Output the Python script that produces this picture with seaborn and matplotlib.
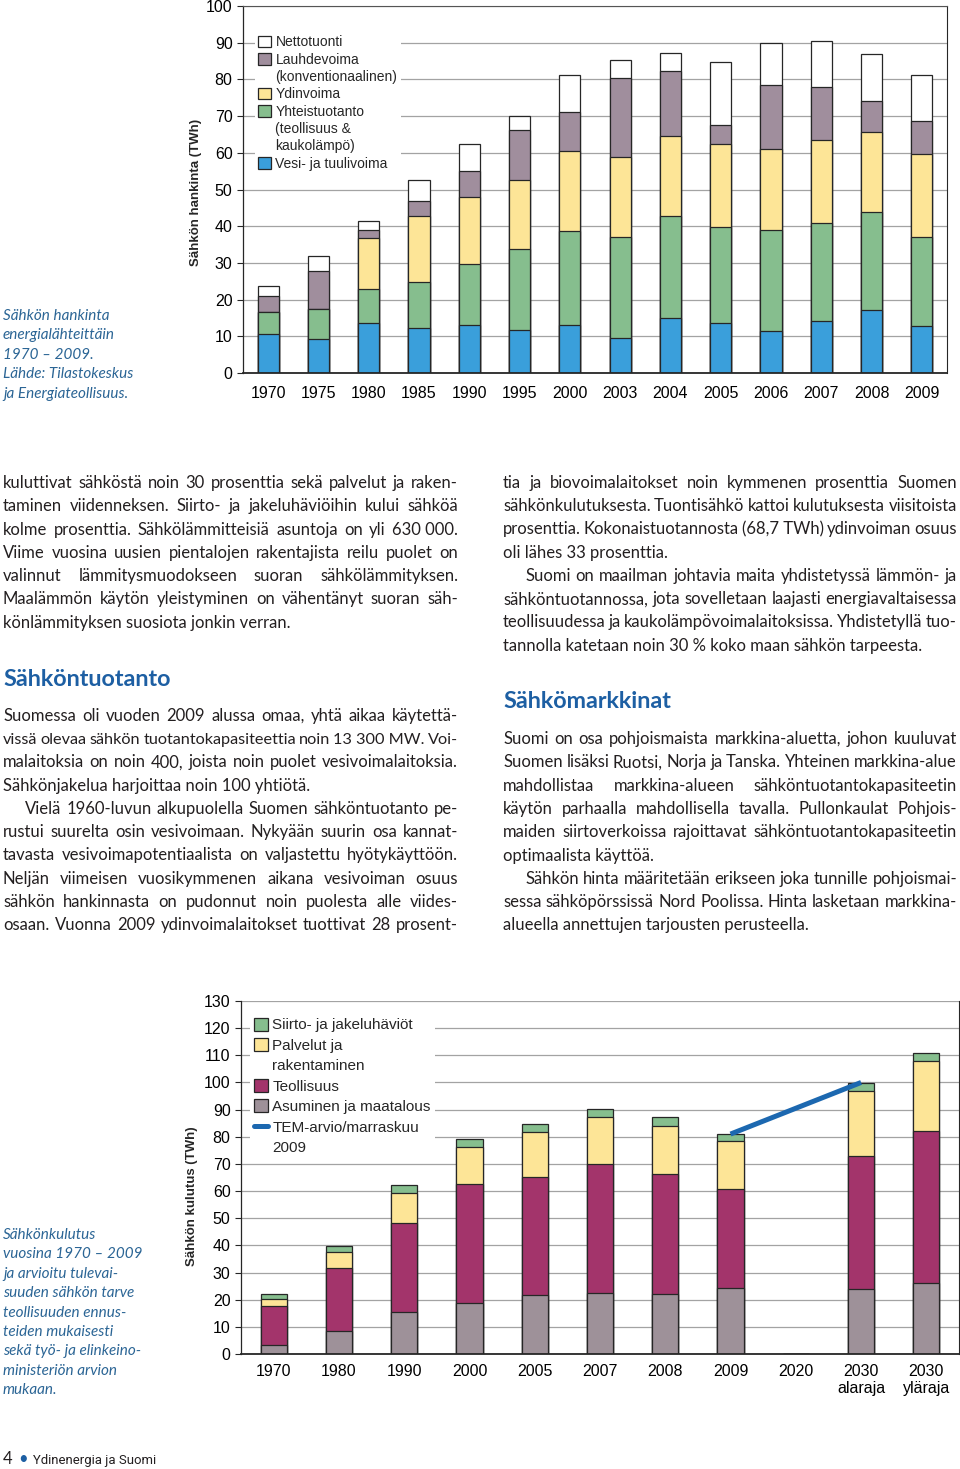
import numpy as np
import pandas as pd
import matplotlib
matplotlib.use("Agg")
import matplotlib.pyplot as plt
from matplotlib.patches import Patch
from matplotlib.lines import Line2D
import seaborn as sns

# Sähkön hankinta energialähteittäin (TWh)
supply_years = ["1970", "1975", "1980", "1985", "1990", "1995", "2000",
                "2003", "2004", "2005", "2006", "2007", "2008", "2009"]
vesi = [10.5, 9.4, 13.5, 12.3, 13.0, 11.6, 13.0, 9.5, 15.0, 13.6, 11.5, 14.2, 17.1, 12.8]
yhteis = [6.0, 8.0, 9.5, 12.5, 16.6, 22.3, 25.8, 27.5, 27.9, 26.3, 27.5, 26.7, 26.9, 24.3]
ydin = [0.0, 0.0, 13.8, 18.0, 18.4, 18.6, 21.7, 21.8, 21.7, 22.5, 22.1, 22.5, 21.8, 22.6]
lauhde = [4.5, 10.4, 2.3, 4.1, 7.0, 13.8, 10.7, 21.6, 17.6, 5.2, 17.4, 14.4, 8.4, 9.1]
netto = [2.6, 4.1, 2.3, 5.8, 7.3, 3.7, 9.9, 4.8, 4.9, 17.1, 11.5, 12.6, 12.8, 12.3]

# Sähkön kulutus (TWh)
use_cats = ["1970", "1980", "1990", "2000", "2005", "2007", "2008", "2009",
            "2020", "2030\nalaraja", "2030\nyläraja"]
asuminen = [3.3, 8.6, 15.6, 18.9, 21.6, 22.3, 22.1, 24.3, 0.0, 23.9, 26.0]
teollisuus = [14.2, 22.9, 32.5, 43.6, 43.6, 47.8, 44.3, 36.4, 0.0, 49.1, 56.0]
palvelut = [2.7, 5.9, 11.3, 13.9, 16.4, 17.1, 17.5, 17.8, 0.0, 23.8, 25.9]
siirto = [1.8, 2.5, 2.9, 2.6, 3.1, 3.1, 3.2, 2.5, 0.0, 3.1, 3.0]
tem_cats = ["2009", "2020", "2030\nalaraja"]
tem_values = [81.0, 90.5, 100.0]

W, H = 960, 1469
EDGE = "#262626"
GRID = "#a3a3a3"
BODY = "#231f20"
HEAD = "#1d5fa3"
CAPT = "#2b6595"

sns.set_style("white")
plt.rcParams["font.family"] = ["Liberation Sans", "DejaVu Sans"]

fig = plt.figure(figsize=(W / 100, H / 100), dpi=100)
renderer = fig.canvas.get_renderer()


def fx(x):
    return x / W


def fy(y):
    return 1 - y / H


def measure(s, **kw):
    t = fig.text(0, 0, s, **kw)
    w = t.get_window_extent(renderer).width
    t.remove()
    return w


def style_axes(ax, top):
    ax.set_axisbelow(True)
    ax.yaxis.grid(True, color=GRID, lw=0.9)
    ax.xaxis.grid(False)
    ax.set_xlabel("")
    ax.set_ylabel("")
    for side in ["left", "right", "bottom"]:
        ax.spines[side].set_color(EDGE)
    ax.spines["left"].set_linewidth(0.9)
    ax.spines["right"].set_linewidth(0.8)
    ax.spines["bottom"].set_linewidth(1.3)
    ax.spines["top"].set_visible(top)
    ax.spines["top"].set_color("#555555")
    ax.spines["top"].set_linewidth(0.8)
    ax.tick_params(axis="y", left=True, length=4.5, width=0.8, color=EDGE,
                   pad=3, labelsize=11.5, labelcolor="black")
    ax.tick_params(axis="x", length=0, labelsize=11.5, labelcolor="black")


def legend_rows(entries):
    # first line of each entry gets the handle, continuation lines get an empty one
    handles, labels = [], []
    blank = Patch(facecolor="none", edgecolor="none")
    for handle, text in entries:
        for k, part in enumerate(text.split("\n")):
            handles.append(handle if k == 0 else blank)
            labels.append(part)
    return handles, labels


# ---------- top chart ----------
ax1 = fig.add_axes([fx(243), fy(373), fx(947) - fx(243), fy(6) - fy(373)])
supply_cols = ["Vesi- ja tuulivoima", "Yhteistuotanto", "Ydinvoima", "Lauhdevoima", "Nettotuonti"]
supply_colors = {"Vesi- ja tuulivoima": "#3a9fdb", "Yhteistuotanto": "#86be8e",
                 "Ydinvoima": "#fde597", "Lauhdevoima": "#a08e9d", "Nettotuonti": "#ffffff"}
supply = pd.DataFrame({"vuosi": supply_years, supply_cols[0]: vesi, supply_cols[1]: yhteis,
                       supply_cols[2]: ydin, supply_cols[3]: lauhde, supply_cols[4]: netto})
supply_cum = supply[supply_cols].cumsum(axis=1)
for col in reversed(supply_cols):
    sns.barplot(x=supply["vuosi"], y=supply_cum[col], color=supply_colors[col], saturation=1,
                width=0.42, edgecolor=EDGE, linewidth=0.9, errorbar=None, ax=ax1)
ax1.set_ylim(0, 100)
ax1.set_xlim(-0.5, len(supply_years) - 0.5)
ax1.set_yticks(range(0, 101, 10))
style_axes(ax1, True)
ax1.tick_params(axis="x", pad=9)

leg_labels = ["Nettotuonti", "Lauhdevoima\n(konventionaalinen)", "Ydinvoima",
              "Yhteistuotanto\n(teollisuus &\nkaukolämpö)", "Vesi- ja tuulivoima"]
leg_patches = [Patch(facecolor=supply_colors[c], edgecolor=EDGE, lw=0.9) for c in reversed(supply_cols)]
h1, l1 = legend_rows(zip(leg_patches, leg_labels))
ax1.legend(h1, l1, loc="upper left", bbox_to_anchor=(fx(255), fy(32)),
           bbox_transform=fig.transFigure, frameon=True, facecolor="white", edgecolor="none",
           framealpha=1, fancybox=False, borderpad=0.25, borderaxespad=0, fontsize=10,
           handlelength=0.9, handleheight=0.9, handletextpad=0.32, labelspacing=0.24)

fig.text(fx(196), fy(192), "Sähkön hankinta (TWh)", rotation=90, ha="center", va="center",
         fontsize=9.5, fontweight="bold")

# ---------- bottom chart ----------
ax2 = fig.add_axes([fx(241), fy(1354), fx(959) - fx(241), fy(1001) - fy(1354)])
use_cols = ["Asuminen ja maatalous", "Teollisuus", "Palvelut ja rakentaminen", "Siirto- ja jakeluhäviöt"]
use_colors = {"Asuminen ja maatalous": "#9e9199", "Teollisuus": "#a3346b",
              "Palvelut ja rakentaminen": "#fde597", "Siirto- ja jakeluhäviöt": "#86be8e"}
usage = pd.DataFrame({"vuosi": use_cats, use_cols[0]: asuminen, use_cols[1]: teollisuus,
                      use_cols[2]: palvelut, use_cols[3]: siirto})
usage_cum = usage[use_cols].cumsum(axis=1)
for col in reversed(use_cols):
    sns.barplot(x=usage["vuosi"], y=usage_cum[col], color=use_colors[col], saturation=1,
                width=0.40, edgecolor=EDGE, linewidth=0.9, errorbar=None, ax=ax2)
tem_x = [use_cats.index(c) for c in tem_cats]
ax2.plot(tem_x, tem_values, color="#1c68b0", lw=3.6, solid_capstyle="butt", zorder=6)
ax2.set_ylim(0, 130)
ax2.set_xlim(-0.5, len(use_cats) - 0.5)
ax2.set_yticks(range(0, 131, 10))
style_axes(ax2, False)
ax2.tick_params(axis="x", pad=7)

leg2_labels = ["Siirto- ja jakeluhäviöt", "Palvelut ja\nrakentaminen", "Teollisuus",
               "Asuminen ja maatalous", "TEM-arvio/marraskuu\n2009"]
leg2_patches = [Patch(facecolor=use_colors[c], edgecolor=EDGE, lw=0.9) for c in reversed(use_cols)]
leg2_patches.append(Line2D([0], [0], color="#1c68b0", lw=3.6))
h2, l2 = legend_rows(zip(leg2_patches, leg2_labels))
ax2.legend(h2, l2, loc="upper left", bbox_to_anchor=(fx(250), fy(1014)),
           bbox_transform=fig.transFigure, frameon=True, facecolor="white", edgecolor="none",
           framealpha=1, fancybox=False, borderpad=0.25, borderaxespad=0, fontsize=11,
           handlelength=0.9, handleheight=0.9, handletextpad=0.32, labelspacing=0.38)

fig.text(fx(192), fy(1196), "Sähkön kulutus (TWh)", rotation=90, ha="center", va="center",
         fontsize=9.5, fontweight="bold")

# ---------- captions ----------
cap_font = dict(family=["Lato", "DejaVu Sans"], style="italic", color=CAPT)
cap_size = 10 * 125 / measure("ja Energiateollisuus.", fontsize=10, **cap_font)
cap1 = ["Sähkön hankinta", "energialähteittäin", "1970 – 2009.", "Lähde: Tilastokeskus",
        "ja Energiateollisuus."]
for i, s in enumerate(cap1):
    fig.text(fx(3), fy(320 + 19.5 * i), s, va="baseline", ha="left", fontsize=cap_size, **cap_font)
cap2 = ["Sähkönkulutus", "vuosina 1970 – 2009", "ja arvioitu tulevai-", "suuden sähkön tarve",
        "teollisuuden ennus-", "teiden mukaisesti", "sekä työ- ja elinkeino-", "ministeriön arvion",
        "mukaan."]
for i, s in enumerate(cap2):
    fig.text(fx(3), fy(1239 + 19.4 * i), s, va="baseline", ha="left", fontsize=cap_size, **cap_font)

# ---------- body text ----------
body_font = dict(family=["Lato", "DejaVu Sans"], color=BODY)
body_size = 10 * 288 / measure("könlämmityksen suosiota jonkin verran.", fontsize=10, **body_font)
head_font = dict(family=["Lato", "DejaVu Sans"], color=HEAD, fontweight="bold")
head_size = 10 * 168 / measure("Sähköntuotanto", fontsize=10, **head_font)
space_w = measure("a a", fontsize=body_size, **body_font) - measure("aa", fontsize=body_size, **body_font)


def body_line(x0, x1, y, s, justify):
    if not justify:
        fig.text(fx(x0), fy(y), s, va="baseline", ha="left", fontsize=body_size, **body_font)
        return
    words = s.split(" ")
    size = body_size
    widths = [measure(w, fontsize=size, **body_font) for w in words]
    min_w = sum(widths) + 0.7 * space_w * (len(words) - 1)
    if min_w > x1 - x0:
        # tight line: shrink the type a little, as the typesetter did
        size = body_size * (x1 - x0) / min_w
        widths = [measure(w, fontsize=size, **body_font) for w in words]
    gap = (x1 - x0 - sum(widths)) / (len(words) - 1)
    x = x0
    for w, wd in zip(words, widths):
        fig.text(fx(x), fy(y), w, va="baseline", ha="left", fontsize=size, **body_font)
        x += wd + gap


def block(x0, x1, y0, step, lines):
    for i, (s, just, indent) in enumerate(lines):
        body_line(x0 + indent, x1, y0 + step * i, s, just)


left_a = [
    ("kuluttivat sähköstä noin 30 prosenttia sekä palvelut ja raken-", True, 0),
    ("taminen viidenneksen. Siirto- ja jakeluhäviöihin kului sähköä", True, 0),
    ("kolme prosenttia. Sähkölämmitteisiä asuntoja on yli 630\u00a0000.", True, 0),
    ("Viime vuosina uusien pientalojen rakentajista reilu puolet on", True, 0),
    ("valinnut lämmitysmuodokseen suoran sähkölämmityksen.", True, 0),
    ("Maalämmön käytön yleistyminen on vähentänyt suoran säh-", True, 0),
    ("könlämmityksen suosiota jonkin verran.", False, 0),
]
left_b = [
    ("Suomessa oli vuoden 2009 alussa omaa, yhtä aikaa käytettä-", True, 0),
    ("vissä olevaa sähkön tuotantokapasiteettia noin 13\u00a0300\u00a0MW. Voi-", True, 0),
    ("malaitoksia on noin 400, joista noin puolet vesivoimalaitoksia.", True, 0),
    ("Sähkönjakelua harjoittaa noin 100 yhtiötä.", False, 0),
    ("Vielä 1960-luvun alkupuolella Suomen sähköntuotanto pe-", True, 22),
    ("rustui suurelta osin vesivoimaan. Nykyään suurin osa kannat-", True, 0),
    ("tavasta vesivoimapotentiaalista on valjastettu hyötykäyttöön.", True, 0),
    ("Neljän viimeisen vuosikymmenen aikana vesivoiman osuus", True, 0),
    ("sähkön hankinnasta on pudonnut noin puolesta alle viides-", True, 0),
    ("osaan. Vuonna 2009 ydinvoimalaitokset tuottivat 28 prosent-", True, 0),
]
right_a = [
    ("tia ja biovoimalaitokset noin kymmenen prosenttia Suomen", True, 0),
    ("sähkönkulutuksesta. Tuontisähkö kattoi kulutuksesta viisitoista", True, 0),
    ("prosenttia. Kokonaistuotannosta (68,7\u00a0TWh) ydinvoiman osuus", True, 0),
    ("oli lähes 33 prosenttia.", False, 0),
    ("Suomi on maailman johtavia maita yhdistetyssä lämmön- ja", True, 22),
    ("sähköntuotannossa, jota sovelletaan laajasti energiavaltaisessa", True, 0),
    ("teollisuudessa ja kaukolämpövoimalaitoksissa. Yhdistetyllä tuo-", True, 0),
    ("tannolla katetaan noin 30 % koko maan sähkön tarpeesta.", False, 0),
]
right_b = [
    ("Suomi on osa pohjoismaista markkina-aluetta, johon kuuluvat", True, 0),
    ("Suomen lisäksi Ruotsi, Norja ja Tanska. Yhteinen markkina-alue", True, 0),
    ("mahdollistaa markkina-alueen sähköntuotantokapasiteetin", True, 0),
    ("käytön parhaalla mahdollisella tavalla. Pullonkaulat Pohjois-", True, 0),
    ("maiden siirtoverkoissa rajoittavat sähköntuotantokapasiteetin", True, 0),
    ("optimaalista käyttöä.", False, 0),
    ("Sähkön hinta määritetään erikseen joka tunnille pohjoismai-", True, 22),
    ("sessa sähköpörssissä Nord Poolissa. Hinta lasketaan markkina-", True, 0),
    ("alueella annettujen tarjousten perusteella.", False, 0),
]

block(3, 458, 488, 23.27, left_a)
fig.text(fx(3), fy(686), "Sähköntuotanto", va="baseline", ha="left", fontsize=head_size, **head_font)
block(3, 458, 721, 23.22, left_b)

block(503, 957, 488, 23.24, right_a)
fig.text(fx(503), fy(708), "Sähkömarkkinat", va="baseline", ha="left", fontsize=head_size, **head_font)
block(503, 957, 744, 23.3, right_b)

# ---------- footer ----------
foot_font = dict(family=["Roboto", "DejaVu Sans"], color=BODY)
foot_size = 11 * 122 / measure("Ydinenergia ja Suomi", fontsize=11, **foot_font)
fig.text(fx(3), fy(1464), "4", va="baseline", ha="left", fontsize=12, color=BODY,
         family=["Lato", "DejaVu Sans"])
fig.text(fx(18), fy(1464), "•", va="baseline", ha="left", fontsize=12, color=HEAD,
         family=["Lato", "DejaVu Sans"])
fig.text(fx(33), fy(1464), "Ydinenergia ja Suomi", va="baseline", ha="left",
         fontsize=foot_size, **foot_font)

fig.savefig("out.png", dpi=100)
